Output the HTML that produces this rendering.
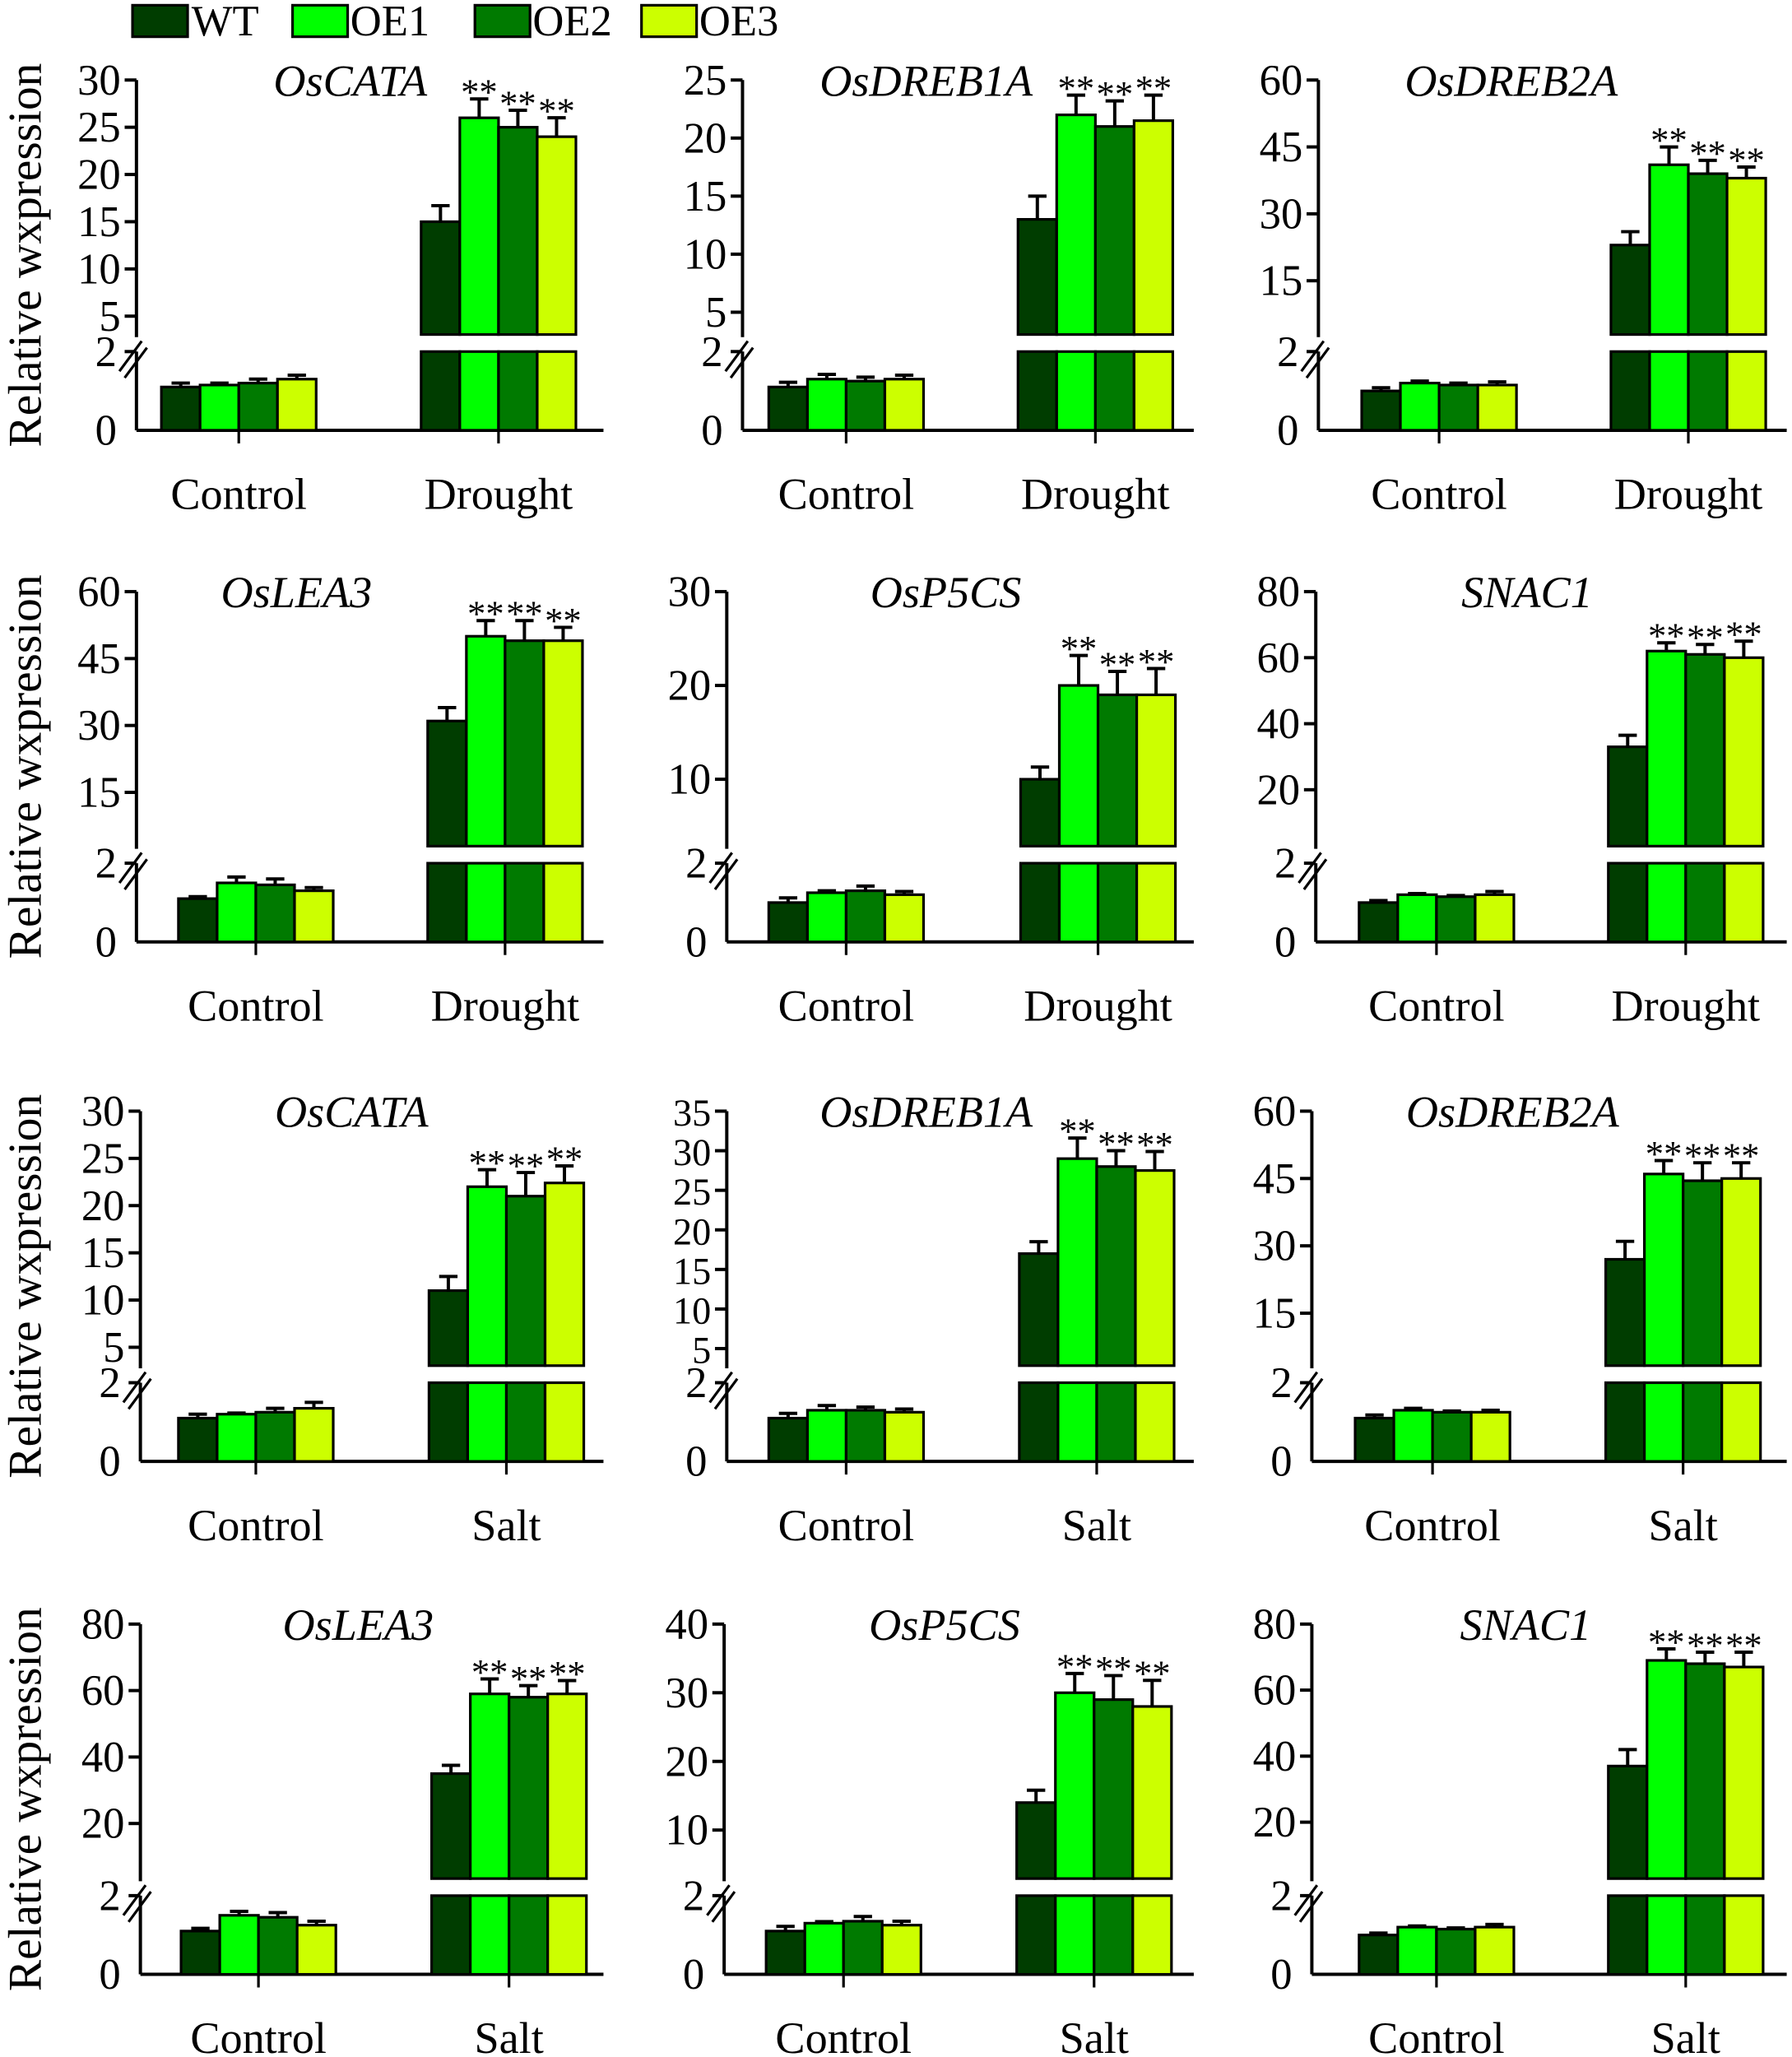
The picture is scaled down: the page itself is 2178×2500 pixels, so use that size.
<!DOCTYPE html>
<html><head><meta charset="utf-8"><style>
html,body{margin:0;padding:0;background:#fff}
svg{display:block}
text{font-family:"Liberation Serif","Times New Roman",serif;fill:#000}
</style></head><body>
<svg id="fig" width="2178" height="2500" viewBox="0 0 1366 1568" xmlns="http://www.w3.org/2000/svg">
<rect x="0" y="0" width="1366" height="1568" fill="#fff"/>
<g>
<g><rect x="101" y="4" width="42" height="24" fill="#003d00" stroke="#000" stroke-width="2"/><text x="146" y="27" font-size="33">WT</text></g>
<g><rect x="223" y="4" width="42" height="24" fill="#00ff00" stroke="#000" stroke-width="2"/><text x="267" y="27" font-size="33">OE1</text></g>
<g><rect x="362" y="4" width="42" height="24" fill="#007a00" stroke="#000" stroke-width="2"/><text x="406" y="27" font-size="33">OE2</text></g>
<g><rect x="489" y="4" width="42" height="24" fill="#ccff00" stroke="#000" stroke-width="2"/><text x="533" y="27" font-size="33">OE3</text></g>
</g>
</svg>
<script>
const genes=["OsCATA","OsDREB1A","OsDREB2A","OsLEA3","OsP5CS","SNAC1","OsCATA","OsDREB1A","OsDREB2A","OsLEA3","OsP5CS","SNAC1"];
const stressLabels=["Drought","Drought","Drought","Drought","Drought","Drought","Salt","Salt","Salt","Salt","Salt","Salt"];
const controlLabel="Control";
const upperTicks=[[5,10,15,20,25,30],[5,10,15,20,25],[15,30,45,60],[15,30,45,60],[10,20,30],[20,40,60,80],[5,10,15,20,25,30],[5,10,15,20,25,30,35],[15,30,45,60],[20,40,60,80],[10,20,30,40],[20,40,60,80]];
const lowerTicks=[0,2];
const ctrlVals=[[1.1,1.15,1.2,1.3],[1.1,1.3,1.25,1.3],[1.0,1.2,1.15,1.15],[1.1,1.5,1.45,1.3],[1.0,1.25,1.3,1.2],[1.0,1.2,1.15,1.2],[1.1,1.2,1.25,1.35],[1.1,1.3,1.3,1.25],[1.1,1.3,1.25,1.25],[1.1,1.5,1.45,1.25],[1.1,1.3,1.35,1.25],[1.0,1.2,1.15,1.2]];
const ctrlErr=[[0.1,0.05,0.1,0.1],[0.12,0.12,0.1,0.1],[0.08,0.05,0.05,0.08],[0.05,0.15,0.15,0.08],[0.12,0.05,0.12,0.08],[0.05,0.03,0.03,0.08],[0.1,0.03,0.1,0.15],[0.12,0.12,0.08,0.08],[0.08,0.05,0.03,0.05],[0.07,0.1,0.12,0.1],[0.12,0.04,0.12,0.1],[0.05,0.03,0.03,0.07]];
const stressVals=[[15,26,25,24],[13,22,21,21.5],[23,41,39,38],[31,50,49,49],[10,20,19,19],[33,62,61,60],[11,22,21,22.4],[17,29,28,27.5],[27,46,44.5,45],[35,59,58,59],[14,30,29,28],[37,69,68,67]];
const stressErr=[[1.7,2,1.8,2],[2,1.7,2.2,2.2],[3,4,3,2.5],[3,3.5,4.5,3],[1.3,3.2,2.5,2.8],[3.5,2.5,3,5],[1.5,1.8,2.5,1.8],[1.5,2.6,2,2.4],[4,3,4,3.5],[2.5,4.5,3.5,4],[1.8,2.8,3.5,3.8],[5,3.5,3.5,4.5]];
const stars=["**","**","**"];
const colors=["#003d00","#00ff00","#007a00","#ccff00"];
// layout (pixel positions)
const axisXs=[104,566,1005,104,554,1003,107,554,1000,107,552,1000];
const ctrlXs=[123,586,1038,136,586,1036,136,586,1033,138,584,1036];
const drXs=[321,776,1228,326,778,1226,327,777,1224,329,775,1226];
const endXs=[460,910,1362,460,910,1362,460,910,1362,460,910,1362];
const topYs=[61,451,847,1238];
const zeroYs=[328,718,1114,1505];
const lowTickYs=[241,238,214,604,594,602,1027,1028,1001,1390,1395,1389];
const titleXs=[267,706,1152,226,721,1164,268,706,1153,273,720,1163];
const NS="http://www.w3.org/2000/svg";
const svg=document.getElementById('fig');
function mk(tag,attrs,parent){const e=document.createElementNS(NS,tag);for(const k in attrs)e.setAttribute(k,attrs[k]);(parent||svg).appendChild(e);return e;}
const BW=29.5;
for(let p=0;p<12;p++){
  const row=Math.floor(p/3);
  const ax=axisXs[p],topY=topYs[row],zeroY=zeroYs[row],lowY=lowTickYs[p];
  const ut=upperTicks[p],uMin=ut[0],uMax=ut[ut.length-1];
  const g=mk('g',{});
  
  
  const yU=v=>lowY-(v-uMin)*(lowY-topY)/(uMax-uMin);
  const yL=v=>zeroY-v*30;
  const breakBase=zeroY-73;
  const yAny=v=>v<=2?yL(v):yU(v);
  const ya=mk('path',{d:`M${ax},${topY} L${ax},${zeroY-71} M${ax},${zeroY-60} L${ax},${zeroY}`,stroke:'#000','stroke-width':2.5,fill:'none'},g);
  
  
  const br=mk('path',{d:`M${ax-13},${zeroY-45} L${ax+4},${zeroY-68} M${ax-9},${zeroY-40} L${ax+8},${zeroY-63}`,stroke:'#000','stroke-width':2,fill:'none'},g);
  
  
  const xa=mk('line',{x1:ax,y1:zeroY,x2:endXs[p],y2:zeroY,stroke:'#000','stroke-width':2.5},g);
  
  
  const fs=ut.length>6?29:33;
  ut.forEach(t=>{const y=yU(t);mk('line',{x1:ax-9,y1:y,x2:ax,y2:y,stroke:'#000','stroke-width':2.5},g);
    const tx=mk('text',{x:ax-12,y:y+11,'font-size':fs,'text-anchor':'end'},g);tx.textContent=t;
    
    });
  lowerTicks.forEach(t=>{const y=yL(t);if(t>0)mk('line',{x1:ax-9,y1:y,x2:ax,y2:y,stroke:'#000','stroke-width':2.5},g);
    const tx=mk('text',{x:ax-15,y:y+11,'font-size':33,'text-anchor':'end'},g);tx.textContent=t;
    
    });
  const ti=mk('text',{x:titleXs[p],y:topY+12,'font-size':34,'font-style':'italic','text-anchor':'middle'},g);ti.textContent=genes[p];
  
  
  [[ctrlXs[p],ctrlVals[p],ctrlErr[p],controlLabel,false],[drXs[p],stressVals[p],stressErr[p],stressLabels[p],true]].forEach(([gx,vals,errs,lab,isStress])=>{
    const cx=gx+BW*2;
    mk('line',{x1:cx,y1:zeroY,x2:cx,y2:zeroY+10,stroke:'#000','stroke-width':2},g);
    const cl=mk('text',{x:cx,y:zeroY+60,'font-size':34,'text-anchor':'middle'},g);cl.textContent=lab;
    
    
    vals.forEach((v,i)=>{
      const x=gx+i*BW;
      if(v>2){
        const b1=mk('rect',{x:x,y:yL(2),width:BW,height:zeroY-yL(2),fill:colors[i],stroke:'#000','stroke-width':2},g);
        
        
        const b2=mk('rect',{x:x,y:yU(v),width:BW,height:breakBase-yU(v),fill:colors[i],stroke:'#000','stroke-width':2},g);
        
        
      } else {
        const b=mk('rect',{x:x,y:yL(v),width:BW,height:zeroY-yL(v),fill:colors[i],stroke:'#000','stroke-width':2},g);
        
        
      }
      const ytop=yAny(v+errs[i]),yb=yAny(v);
      const eb=mk('path',{d:`M${x+BW/2},${yb} L${x+BW/2},${ytop} M${x+BW/2-7},${ytop} L${x+BW/2+7},${ytop}`,stroke:'#000','stroke-width':2.5,fill:'none'},g);
      
      
      if(isStress&&i>0){
        const st=mk('text',{x:x+BW/2,y:ytop+4,'font-size':28,'text-anchor':'middle'},g);st.textContent=stars[i-1];
        
        
      }
    });
  });
  if(p%3===0){
    const cy=(topY+zeroY)/2;
    const yl=mk('text',{x:31,y:cy,'font-size':36,'text-anchor':'middle',transform:`rotate(-90 31 ${cy})`},g);yl.textContent='Relative wxpression';
    
    
  }
}
</script>
</body></html>
